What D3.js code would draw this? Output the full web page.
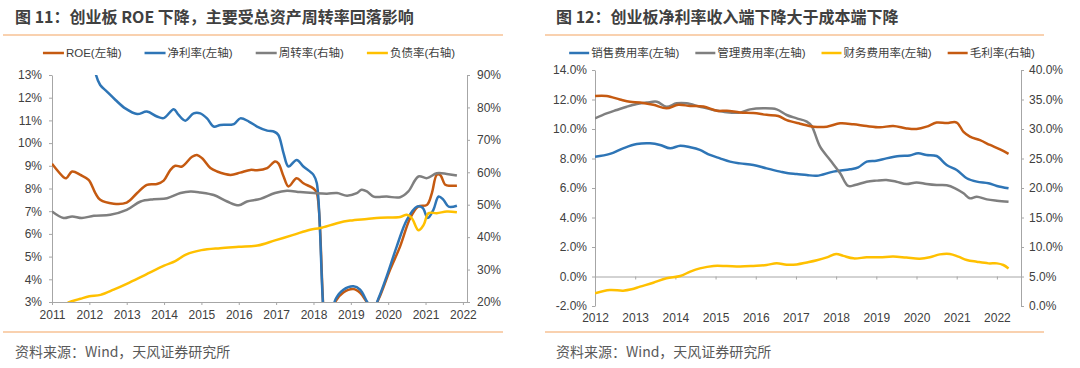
<!DOCTYPE html>
<html lang="zh">
<head>
  <meta charset="UTF-8" />
  <title>创业板 ROE 与费用率</title>
  <script src="https://d3js.org/d3.v7.min.js"></script>
  <style>
    body { margin: 0; background: #fff; }
    svg { display: block; }
    .title { font-family: "Noto Sans CJK SC", sans-serif; font-weight: bold; font-size: 16px; fill: #404040; }
    .source { font-family: "Noto Sans CJK SC", sans-serif; font-size: 14px; fill: #595959; }
    .legend text { font-family: "Liberation Sans", "Noto Sans CJK SC", sans-serif; font-size: 11.5px; fill: #404040; }
    .axis text { font-family: "Liberation Sans", Arial, sans-serif; font-size: 12px; fill: #404040; }
    .axis path, .axis line { stroke: #a6a6a6; }
  </style>
</head>
<body>
<svg id="chart" width="1080" height="368"></svg>
<script>
  // ---- 图 11 data: [year, value] ----
  const roe = [
    [2011.0, 9.09], [2011.31, 8.5], [2011.38, 8.45], [2011.54, 8.75], [2011.76, 8.6], [2011.98, 8.38],
    [2012.16, 7.8], [2012.29, 7.5], [2012.65, 7.33], [2013.0, 7.38], [2013.28, 7.8], [2013.54, 8.16],
    [2013.81, 8.2], [2013.99, 8.35], [2014.17, 8.82], [2014.3, 9.0], [2014.48, 8.97], [2014.75, 9.4],
    [2014.88, 9.48], [2015.02, 9.33], [2015.24, 8.9], [2015.42, 8.75], [2015.78, 8.6], [2016.04, 8.7],
    [2016.31, 8.82], [2016.49, 8.8], [2016.76, 8.9], [2016.97, 9.19], [2017.06, 9.11], [2017.2, 8.53],
    [2017.33, 8.09], [2017.55, 8.45], [2017.73, 8.23], [2018.0, 8.0], [2018.09, 7.8], [2018.35, 1.8],
    [2018.6, 3.05], [2018.8, 3.42], [2019.07, 3.57], [2019.25, 3.4], [2019.45, 2.95], [2019.6, 2.7],
    [2019.75, 3.15], [2020.05, 4.42], [2020.32, 5.45], [2020.59, 6.7], [2020.8, 7.2], [2021.04, 7.28],
    [2021.17, 7.8], [2021.3, 8.6], [2021.39, 8.6], [2021.53, 8.16], [2021.66, 8.12], [2021.84, 8.12]
  ];
  const netMargin = [
    [2012.1, 13.8], [2012.17, 13.05], [2012.29, 12.56], [2012.47, 12.27], [2012.7, 11.9], [2012.96, 11.53],
    [2013.28, 11.28], [2013.54, 11.39], [2013.81, 11.17], [2013.99, 11.1], [2014.26, 11.49], [2014.39, 11.24],
    [2014.57, 10.99], [2014.79, 11.31], [2014.97, 11.31], [2015.15, 11.09], [2015.33, 10.73], [2015.51, 10.8],
    [2015.87, 10.84], [2016.04, 11.09], [2016.27, 10.95], [2016.49, 10.73], [2016.76, 10.55], [2016.95, 10.5],
    [2017.06, 10.36], [2017.2, 9.55], [2017.33, 8.97], [2017.55, 9.26], [2017.73, 8.97], [2018.0, 8.6],
    [2018.09, 8.23], [2018.35, 1.8], [2018.6, 3.15], [2018.8, 3.54], [2019.07, 3.69], [2019.25, 3.54],
    [2019.45, 2.97], [2019.6, 2.7], [2019.75, 3.2], [2019.96, 4.13], [2020.23, 5.45], [2020.5, 6.62],
    [2020.77, 7.2], [2020.92, 7.15], [2021.06, 6.7], [2021.21, 7.06], [2021.35, 7.65], [2021.48, 7.5],
    [2021.62, 7.2], [2021.84, 7.24]
  ];
  const turnover = [
    [2011.0, 47.9], [2011.31, 45.9], [2011.54, 46.4], [2011.8, 45.9], [2012.12, 46.6], [2012.56, 46.9],
    [2013.0, 48.4], [2013.37, 51.0], [2013.72, 51.7], [2014.08, 52.0], [2014.44, 53.6], [2014.71, 54.1],
    [2014.97, 53.8], [2015.33, 53.0], [2015.69, 51.0], [2016.0, 49.8], [2016.22, 51.0], [2016.58, 51.8],
    [2016.97, 53.6], [2017.29, 54.3], [2017.64, 53.9], [2018.0, 53.6], [2018.36, 53.4], [2018.63, 53.6],
    [2018.9, 52.8], [2019.16, 53.6], [2019.29, 54.6], [2019.43, 54.1], [2019.61, 52.5], [2019.96, 52.5],
    [2020.32, 52.3], [2020.54, 54.1], [2020.81, 58.7], [2021.04, 58.2], [2021.3, 59.7], [2021.57, 59.5],
    [2021.84, 59.0]
  ];
  const debtRatio = [
    [2011.42, 19.8], [2011.76, 21.0], [2012.0, 21.75], [2012.3, 22.2], [2012.65, 23.8], [2013.0, 25.6],
    [2013.5, 28.4], [2014.0, 31.2], [2014.3, 32.6], [2014.6, 34.7], [2015.0, 36.0], [2015.5, 36.6],
    [2016.0, 37.0], [2016.5, 37.4], [2016.97, 39.0], [2017.46, 40.7], [2017.91, 42.3], [2018.18, 42.8],
    [2018.63, 44.3], [2018.98, 45.1], [2019.43, 45.6], [2019.79, 46.0], [2020.32, 46.2], [2020.5, 46.9],
    [2020.63, 45.9], [2020.81, 42.1], [2020.95, 43.8], [2021.08, 47.4], [2021.3, 47.4], [2021.57, 47.9],
    [2021.84, 47.7]
  ];
  const years11 = [2011, 2012, 2013, 2014, 2015, 2016, 2017, 2018, 2019, 2020, 2021, 2022];
  const leftTicks11 = [3, 4, 5, 6, 7, 8, 9, 10, 11, 12, 13];
  const rightTicks11 = [20, 30, 40, 50, 60, 70, 80, 90];

  // ---- 图 12 data: [year, value] ----
  const sellingExp = [
    [2012.0, 8.12], [2012.37, 8.31], [2012.7, 8.69], [2013.04, 8.98], [2013.37, 9.03], [2013.62, 8.92],
    [2013.87, 8.69], [2014.12, 8.87], [2014.37, 8.76], [2014.61, 8.58], [2014.86, 8.24], [2015.11, 8.01],
    [2015.36, 7.79], [2015.61, 7.67], [2015.94, 7.56], [2016.27, 7.33], [2016.61, 7.11], [2016.81, 7.0],
    [2017.02, 6.95], [2017.27, 6.88], [2017.52, 6.83], [2017.93, 7.11], [2018.35, 7.27], [2018.55, 7.4],
    [2018.76, 7.79], [2019.0, 7.85], [2019.25, 8.01], [2019.58, 8.17], [2019.83, 8.21], [2020.04, 8.35],
    [2020.25, 8.24], [2020.5, 8.17], [2020.75, 7.56], [2021.0, 7.22], [2021.25, 6.66], [2021.5, 6.43],
    [2021.79, 6.32], [2022.0, 6.14], [2022.29, 5.98]
  ];
  const adminExp = [
    [2012.0, 10.72], [2012.29, 11.06], [2012.54, 11.29], [2012.79, 11.51], [2013.04, 11.69], [2013.29, 11.79],
    [2013.54, 11.85], [2013.78, 11.51], [2014.03, 11.74], [2014.28, 11.74], [2014.61, 11.51], [2014.95, 11.29],
    [2015.28, 11.13], [2015.61, 11.11], [2015.86, 11.33], [2016.19, 11.4], [2016.52, 11.33], [2016.77, 10.95],
    [2017.02, 10.72], [2017.27, 10.5], [2017.39, 10.2], [2017.6, 8.8], [2017.85, 7.9], [2018.1, 7.0],
    [2018.3, 6.14], [2018.47, 6.2], [2018.76, 6.43], [2019.0, 6.5], [2019.25, 6.54], [2019.5, 6.43],
    [2019.75, 6.27], [2020.0, 6.38], [2020.25, 6.27], [2020.5, 6.2], [2020.75, 6.18], [2020.96, 5.98],
    [2021.17, 5.64], [2021.33, 5.3], [2021.5, 5.41], [2021.75, 5.23], [2022.0, 5.14], [2022.29, 5.07]
  ];
  const financeExp = [
    [2012.0, -1.14], [2012.37, -0.92], [2012.7, -0.96], [2012.91, -0.87], [2013.12, -0.69], [2013.45, -0.42],
    [2013.78, -0.12], [2014.12, 0.03], [2014.37, 0.33], [2014.61, 0.55], [2014.95, 0.72], [2015.28, 0.71],
    [2015.61, 0.68], [2015.94, 0.72], [2016.27, 0.78], [2016.52, 0.9], [2016.77, 0.8], [2017.02, 0.82],
    [2017.27, 0.95], [2017.52, 1.1], [2017.77, 1.3], [2018.0, 1.53], [2018.18, 1.4], [2018.43, 1.23],
    [2018.76, 1.3], [2019.09, 1.3], [2019.42, 1.35], [2019.75, 1.28], [2020.08, 1.21], [2020.33, 1.3],
    [2020.58, 1.5], [2020.83, 1.53], [2021.04, 1.35], [2021.25, 1.12], [2021.5, 1.0], [2021.79, 0.89],
    [2022.0, 0.89], [2022.16, 0.78], [2022.29, 0.55]
  ];
  const grossMargin = [
    [2012.0, 35.6], [2012.29, 35.6], [2012.62, 35.0], [2012.87, 34.6], [2013.12, 34.5], [2013.45, 34.1],
    [2013.78, 33.5], [2014.07, 34.1], [2014.37, 33.9], [2014.7, 33.8], [2015.03, 33.1], [2015.28, 33.1],
    [2015.61, 32.8], [2015.94, 32.7], [2016.27, 32.4], [2016.56, 32.2], [2016.77, 31.5], [2017.1, 30.9],
    [2017.44, 30.4], [2017.77, 30.4], [2018.1, 30.96], [2018.43, 30.8], [2018.76, 30.5], [2019.09, 30.3],
    [2019.42, 30.5], [2019.75, 30.1], [2020.0, 30.0], [2020.25, 30.4], [2020.5, 31.1], [2020.75, 31.0],
    [2021.0, 31.1], [2021.17, 29.5], [2021.33, 28.7], [2021.58, 28.1], [2021.83, 27.3], [2022.08, 26.55],
    [2022.29, 25.8]
  ];
  const years12 = [2012, 2013, 2014, 2015, 2016, 2017, 2018, 2019, 2020, 2021, 2022];
  const leftTicks12 = [-2, 0, 2, 4, 6, 8, 10, 12, 14];
  const rightTicks12 = [0, 5, 10, 15, 20, 25, 30, 35, 40];

  const ORANGE = '#C55A11', BLUE = '#2E75B6', GRAY = '#7F7F7F', YELLOW = '#FFC000';

  const svg = d3.select('#chart');

  function drawPanel(cfg) {
    const g = svg.append('g');

    // title + separators + source
    g.append('text').attr('class', 'title')
      .attr('x', cfg.titleX).attr('y', 17).attr('dy', '0.35em')
      .text(cfg.title);
    [35, 332].forEach(yy => {
      g.append('line')
        .attr('x1', cfg.sepX[0]).attr('x2', cfg.sepX[1])
        .attr('y1', yy).attr('y2', yy)
        .attr('stroke', '#F4A460').attr('stroke-width', 1.2);
    });
    g.append('text').attr('class', 'source')
      .attr('x', cfg.titleX).attr('y', 352).attr('dy', '0.35em')
      .text('资料来源：Wind，天风证券研究所');

    const x = d3.scaleLinear().domain(cfg.xDomain).range([cfg.left, cfg.right]);
    const yL = d3.scaleLinear().domain(cfg.yLeftDomain).range([cfg.bottom, cfg.top]);
    const yR = d3.scaleLinear().domain(cfg.yRightDomain).range([cfg.bottom, cfg.top]);

    // axes
    g.append('g').attr('class', 'axis')
      .attr('transform', `translate(${cfg.left},0)`)
      .call(d3.axisLeft(yL).tickValues(cfg.leftTicks).tickFormat(cfg.leftFmt)
        .tickSize(3).tickSizeOuter(0).tickPadding(cfg.yPad));
    g.append('g').attr('class', 'axis')
      .attr('transform', `translate(${cfg.right},0)`)
      .call(d3.axisRight(yR).tickValues(cfg.rightTicks).tickFormat(cfg.rightFmt)
        .tickSize(3).tickSizeOuter(0).tickPadding(cfg.yPad));
    const xAxisY = yL(cfg.xAxisAt);
    g.append('g').attr('class', 'axis')
      .attr('transform', `translate(0,${xAxisY})`)
      .call(d3.axisBottom(x).tickValues(cfg.years).tickFormat(d3.format('d'))
        .tickSize(3).tickSizeOuter(0).tickPadding(cfg.labelTop - xAxisY - 3));

    // clip
    const clipId = 'clip-' + cfg.id;
    g.append('clipPath').attr('id', clipId)
      .append('rect')
      .attr('x', cfg.left).attr('y', cfg.top)
      .attr('width', cfg.right - cfg.left).attr('height', cfg.bottom - cfg.top);

    const plot = g.append('g').attr('clip-path', `url(#${clipId})`);
    cfg.series.forEach(s => {
      const yScale = s.axis === 'right' ? yR : yL;
      const line = d3.line()
        .x(d => x(d[0]))
        .y(d => yScale(d[1]))
        .curve(d3.curveCatmullRom.alpha(0.5));
      plot.append('path')
        .datum(s.data)
        .attr('fill', 'none')
        .attr('stroke', s.color)
        .attr('stroke-width', 2.5)
        .attr('stroke-linejoin', 'round')
        .attr('d', line);
    });

    // legend
    const lg = g.append('g').attr('class', 'legend');
    const items = cfg.series.map(s => {
      const it = lg.append('g');
      it.append('line').attr('x1', 0).attr('x2', cfg.legLine)
        .attr('y1', 0).attr('y2', 0)
        .attr('stroke', s.color).attr('stroke-width', 2.5);
      const t = it.append('text').attr('x', cfg.legLine + 2).attr('dy', '0.35em').text(s.name);
      return { it, w: cfg.legLine + 2 + t.node().getComputedTextLength() };
    });
    const total = d3.sum(items, d => d.w) + cfg.legGap * (items.length - 1);
    let cx = cfg.legCenter - total / 2;
    items.forEach(d => {
      d.it.attr('transform', `translate(${cx},53)`);
      cx += d.w + cfg.legGap;
    });
  }

  drawPanel({
    id: 'p11',
    title: '图 11：创业板 ROE 下降，主要受总资产周转率回落影响',
    titleX: 15, sepX: [3, 503],
    left: 52, right: 467, top: 75, bottom: 302,
    xDomain: [2011, 2022.11], yLeftDomain: [3, 13], yRightDomain: [20, 90],
    leftTicks: leftTicks11, rightTicks: rightTicks11, years: years11,
    leftFmt: d => d + '%', rightFmt: d => d + '%',
    yPad: 7, xAxisAt: 3, labelTop: 310,
    legCenter: 249, legLine: 21, legGap: 23,
    series: [
      { name: 'ROE(左轴)', data: roe, color: ORANGE, axis: 'left' },
      { name: '净利率(左轴)', data: netMargin, color: BLUE, axis: 'left' },
      { name: '周转率(右轴)', data: turnover, color: GRAY, axis: 'right' },
      { name: '负债率(右轴)', data: debtRatio, color: YELLOW, axis: 'right' }
    ]
  });

  drawPanel({
    id: 'p12',
    title: '图 12：创业板净利率收入端下降大于成本端下降',
    titleX: 556, sepX: [545, 1044],
    left: 595, right: 1021, top: 70, bottom: 306,
    xDomain: [2012, 2022.6], yLeftDomain: [-2, 14], yRightDomain: [0, 40],
    leftTicks: leftTicks12, rightTicks: rightTicks12, years: years12,
    leftFmt: d => d.toFixed(1) + '%', rightFmt: d => d.toFixed(1) + '%',
    yPad: 5, xAxisAt: 0, labelTop: 313,
    legCenter: 802, legLine: 20, legGap: 16,
    series: [
      { name: '销售费用率(左轴)', data: sellingExp, color: BLUE, axis: 'left' },
      { name: '管理费用率(左轴)', data: adminExp, color: GRAY, axis: 'left' },
      { name: '财务费用率(左轴)', data: financeExp, color: YELLOW, axis: 'left' },
      { name: '毛利率(右轴)', data: grossMargin, color: ORANGE, axis: 'right' }
    ]
  });
</script>
</body>
</html>
